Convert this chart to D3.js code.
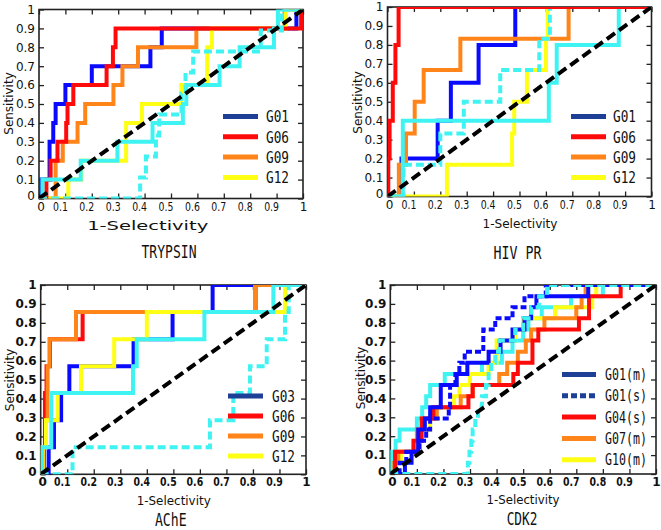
<!DOCTYPE html>
<html><head><meta charset="utf-8">
<script src="https://cdn.jsdelivr.net/npm/d3@7"></script>
<style>body{margin:0;background:#fff}svg{display:block}</style>
</head><body>
<svg id="c" width="661" height="530"></svg>
<script>
// ---------- DATA ----------
const tickValues = [0,0.1,0.2,0.3,0.4,0.5,0.6,0.7,0.8,0.9,1];
const tickLabels = ["0","0.1","0.2","0.3","0.4","0.5","0.6","0.7","0.8","0.9","1"];
const diagonal = [[0,0],[1,1]];

// TRYPSIN
const tryG01 = [[0,0],[0.009,0],[0.009,0.1],[0.04,0.1],[0.04,0.3],[0.054,0.3],[0.054,0.4],[0.063,0.4],[0.063,0.5],[0.1,0.5],[0.1,0.6],[0.2,0.6],[0.2,0.7],[0.422,0.7],[0.422,0.8],[0.465,0.8],[0.465,0.9],[0.975,0.9],[0.975,1],[1,1]];
const tryG06 = [[0,0],[0.028,0],[0.028,0.1],[0.044,0.1],[0.044,0.2],[0.07,0.2],[0.07,0.3],[0.103,0.3],[0.103,0.4],[0.108,0.4],[0.108,0.5],[0.13,0.5],[0.13,0.6],[0.256,0.6],[0.256,0.7],[0.28,0.7],[0.28,0.8],[0.29,0.8],[0.29,0.9],[0.993,0.9],[0.993,1],[1,1]];
const tryG09 = [[0,0],[0.063,0],[0.063,0.2],[0.09,0.2],[0.09,0.3],[0.146,0.3],[0.146,0.4],[0.175,0.4],[0.175,0.5],[0.282,0.5],[0.282,0.6],[0.316,0.6],[0.316,0.7],[0.375,0.7],[0.375,0.8],[0.596,0.8],[0.596,0.9],[0.93,0.9],[0.93,1],[1,1]];
const tryG12 = [[0,0],[0.111,0],[0.111,0.1],[0.16,0.1],[0.16,0.2],[0.33,0.2],[0.33,0.4],[0.39,0.4],[0.39,0.5],[0.539,0.5],[0.539,0.6],[0.637,0.6],[0.637,0.8],[0.655,0.8],[0.655,0.9],[0.935,0.9],[0.935,1],[1,1]];
const tryCyan = [[0,0],[0.013,0],[0.013,0.1],[0.158,0.1],[0.158,0.2],[0.297,0.2],[0.297,0.3],[0.43,0.3],[0.43,0.4],[0.545,0.4],[0.545,0.5],[0.558,0.5],[0.558,0.6],[0.684,0.6],[0.684,0.7],[0.76,0.7],[0.76,0.8],[0.89,0.8],[0.89,0.9],[0.905,0.9],[0.905,1],[1,1]];
const tryCyanD = [[0,0],[0.383,0],[0.383,0.111],[0.405,0.111],[0.405,0.222],[0.443,0.222],[0.443,0.333],[0.455,0.333],[0.455,0.444],[0.54,0.444],[0.54,0.556],[0.555,0.556],[0.555,0.667],[0.584,0.667],[0.584,0.778],[0.84,0.778],[0.84,0.889],[0.92,0.889],[0.92,1],[1,1]];
const tryLegend = ["G01","G06","G09","G12"];

// HIV PR
const hivG01 = [[0,0],[0.053,0],[0.053,0.2],[0.19,0.2],[0.19,0.4],[0.24,0.4],[0.24,0.6],[0.345,0.6],[0.345,0.8],[0.484,0.8],[0.484,1],[1,1]];
const hivG06 = [[0,0],[0.003,0],[0.003,0.2],[0.008,0.2],[0.008,0.4],[0.02,0.4],[0.02,0.6],[0.03,0.6],[0.03,0.8],[0.042,0.8],[0.042,1],[1,1]];
const hivG09 = [[0,0],[0.043,0],[0.043,0.167],[0.07,0.167],[0.07,0.333],[0.103,0.333],[0.103,0.5],[0.137,0.5],[0.137,0.667],[0.276,0.667],[0.276,0.833],[0.686,0.833],[0.686,1],[1,1]];
const hivG12 = [[0,0],[0.225,0],[0.225,0.167],[0.472,0.167],[0.472,0.333],[0.48,0.333],[0.48,0.5],[0.528,0.5],[0.528,0.667],[0.6,0.667],[0.6,0.833],[0.607,0.833],[0.607,1],[1,1]];
const hivCyan = [[0,0],[0.058,0],[0.058,0.4],[0.611,0.4],[0.611,0.6],[0.641,0.6],[0.641,0.8],[0.876,0.8],[0.876,1],[1,1]];
const hivCyanD = [[0,0],[0.061,0],[0.061,0.167],[0.2,0.167],[0.2,0.333],[0.289,0.333],[0.289,0.5],[0.427,0.5],[0.427,0.667],[0.575,0.667],[0.575,0.833],[0.615,0.833],[0.615,1],[1,1]];
const hivLegend = ["G01","G06","G09","G12"];

// AChE
const acheG03 = [[0,0],[0.03,0],[0.03,0.143],[0.05,0.143],[0.05,0.286],[0.077,0.286],[0.077,0.429],[0.108,0.429],[0.108,0.571],[0.35,0.571],[0.35,0.714],[0.497,0.714],[0.497,0.857],[0.648,0.857],[0.648,1],[1,1]];
const acheG06 = [[0,0],[0.012,0],[0.012,0.143],[0.016,0.143],[0.016,0.429],[0.022,0.429],[0.022,0.571],[0.035,0.571],[0.035,0.714],[0.158,0.714],[0.158,0.857],[0.81,0.857],[0.81,1],[1,1]];
const acheG09 = [[0,0],[0,0.143],[0.02,0.143],[0.02,0.286],[0.026,0.286],[0.026,0.571],[0.033,0.571],[0.033,0.714],[0.133,0.714],[0.133,0.857],[0.808,0.857],[0.808,1],[1,1]];
const acheG12 = [[0,0],[0.008,0],[0.008,0.143],[0.02,0.143],[0.02,0.286],[0.064,0.286],[0.064,0.429],[0.152,0.429],[0.152,0.571],[0.277,0.571],[0.277,0.714],[0.4,0.714],[0.4,0.857],[0.921,0.857],[0.921,1],[1,1]];
const acheCyan = [[0,0],[0.005,0],[0.005,0.143],[0.04,0.143],[0.04,0.429],[0.348,0.429],[0.348,0.571],[0.362,0.571],[0.362,0.714],[0.617,0.714],[0.617,0.857],[0.877,0.857],[0.877,1],[1,1]];
const acheCyanD = [[0,0],[0.12,0],[0.12,0.143],[0.638,0.143],[0.638,0.286],[0.726,0.286],[0.726,0.429],[0.789,0.429],[0.789,0.571],[0.852,0.571],[0.852,0.714],[0.921,0.714],[0.921,0.857],[0.935,0.857],[0.935,1],[1,1]];
const acheLegend = ["G03","G06","G09","G12"];

// CDK2
const cdkG01m = [[0,0],[0.055,0],[0.055,0.059],[0.08,0.059],[0.08,0.118],[0.105,0.118],[0.105,0.235],[0.13,0.235],[0.13,0.294],[0.15,0.294],[0.15,0.353],[0.19,0.353],[0.19,0.471],[0.25,0.471],[0.25,0.529],[0.29,0.529],[0.29,0.588],[0.37,0.588],[0.37,0.647],[0.415,0.647],[0.415,0.706],[0.46,0.706],[0.46,0.765],[0.505,0.765],[0.505,0.824],[0.53,0.824],[0.53,0.882],[0.55,0.882],[0.55,0.941],[0.745,0.941],[0.745,1],[1,1]];
const cdkG01s = [[0,0],[0.035,0],[0.035,0.059],[0.06,0.059],[0.06,0.118],[0.11,0.118],[0.11,0.176],[0.135,0.176],[0.135,0.235],[0.15,0.235],[0.15,0.294],[0.22,0.294],[0.22,0.353],[0.225,0.353],[0.225,0.471],[0.245,0.471],[0.245,0.529],[0.26,0.529],[0.26,0.588],[0.28,0.588],[0.28,0.647],[0.35,0.647],[0.35,0.765],[0.395,0.765],[0.395,0.824],[0.46,0.824],[0.46,0.882],[0.505,0.882],[0.505,0.941],[0.585,0.941],[0.585,1],[1,1]];
const cdkG04s = [[0,0],[0.018,0],[0.018,0.118],[0.087,0.118],[0.087,0.176],[0.118,0.176],[0.118,0.294],[0.162,0.294],[0.162,0.353],[0.294,0.353],[0.294,0.412],[0.31,0.412],[0.31,0.471],[0.463,0.471],[0.463,0.529],[0.48,0.529],[0.48,0.588],[0.535,0.588],[0.535,0.706],[0.557,0.706],[0.557,0.765],[0.71,0.765],[0.71,0.824],[0.748,0.824],[0.748,0.941],[0.867,0.941],[0.867,1],[1,1]];
const cdkG07m = [[0,0],[0.015,0],[0.015,0.059],[0.03,0.059],[0.03,0.118],[0.1,0.118],[0.1,0.235],[0.12,0.235],[0.12,0.294],[0.175,0.294],[0.175,0.353],[0.265,0.353],[0.265,0.412],[0.31,0.412],[0.31,0.471],[0.41,0.471],[0.41,0.529],[0.44,0.529],[0.44,0.588],[0.48,0.588],[0.48,0.647],[0.51,0.647],[0.51,0.706],[0.53,0.706],[0.53,0.765],[0.58,0.765],[0.58,0.824],[0.7,0.824],[0.7,0.882],[0.72,0.882],[0.72,0.941],[0.735,0.941],[0.735,1],[1,1]];
const cdkG10m = [[0,0],[0.02,0],[0.02,0.059],[0.04,0.059],[0.04,0.118],[0.09,0.118],[0.09,0.176],[0.11,0.176],[0.11,0.235],[0.15,0.235],[0.15,0.294],[0.17,0.294],[0.17,0.353],[0.24,0.353],[0.24,0.412],[0.26,0.412],[0.26,0.471],[0.3,0.471],[0.3,0.529],[0.37,0.529],[0.37,0.588],[0.4,0.588],[0.4,0.706],[0.47,0.706],[0.47,0.765],[0.5,0.765],[0.5,0.824],[0.62,0.824],[0.62,0.882],[0.76,0.882],[0.76,0.941],[0.775,0.941],[0.775,1],[1,1]];
const cdkCyan = [[0,0],[0.005,0],[0.005,0.118],[0.02,0.118],[0.02,0.176],[0.035,0.176],[0.035,0.235],[0.1,0.235],[0.1,0.294],[0.12,0.294],[0.12,0.353],[0.135,0.353],[0.135,0.412],[0.15,0.412],[0.15,0.471],[0.205,0.471],[0.205,0.529],[0.345,0.529],[0.345,0.588],[0.42,0.588],[0.42,0.647],[0.46,0.647],[0.46,0.706],[0.5,0.706],[0.5,0.765],[0.52,0.765],[0.52,0.824],[0.57,0.824],[0.57,0.882],[0.68,0.882],[0.68,0.941],[0.8,0.941],[0.8,1],[1,1]];
const cdkCyanD = [[0,0],[0.292,0],[0.292,0.059],[0.298,0.059],[0.298,0.118],[0.305,0.118],[0.305,0.176],[0.31,0.176],[0.31,0.235],[0.32,0.235],[0.32,0.294],[0.33,0.294],[0.33,0.353],[0.345,0.353],[0.345,0.412],[0.36,0.412],[0.36,0.471],[0.37,0.471],[0.37,0.529],[0.38,0.529],[0.38,0.588],[0.395,0.588],[0.395,0.647],[0.41,0.647],[0.41,0.706],[0.47,0.706],[0.47,0.765],[0.5,0.765],[0.5,0.824],[0.53,0.824],[0.53,0.882],[0.56,0.882],[0.56,0.941],[0.59,0.941],[0.59,1],[1,1]];
const cdkLegend = ["G01(m)","G01(s)","G04(s)","G07(m)","G10(m)"];

// ---------- STYLE ----------
const BLUE="#0a0aff", RED="#ff0a0a", ORANGE="#ff8419", YELLOW="#ffff14", CYAN="#3ff3f3", NAVY="#1e3f96";
const dashCyan="8,4", dashBlue="6,3", dashDiag="10,5";

const panels = [
 {box:[39,303,198.5,9.5], bold:false, title:"TRYPSIN", titlePos:[169,251.7,55],
  xlab:[147.7,225.7,121], ylab:[8.5,103.5],
  series:[[tryG01,BLUE],[tryG09,ORANGE],[tryG12,YELLOW],[tryG06,RED],[tryCyan,CYAN],[tryCyanD,CYAN,dashCyan]],
  legend:{labels:tryLegend, colors:[NAVY,RED,ORANGE,YELLOW], dashes:[], x:[223,258], tx:266, y0:116.5, dy:20.3, tw:23, fs:16}},
 {box:[387.5,651.5,196.5,7], bold:false, title:"HIV PR", titlePos:[517.5,253.3,48],
  xlab:[520,223.3,75], ylab:[357.5,102.5],
  series:[[hivG01,BLUE],[hivG09,ORANGE],[hivG12,YELLOW],[hivCyan,CYAN],[hivCyanD,CYAN,dashCyan],[hivG06,RED]],
  legend:{labels:hivLegend, colors:[NAVY,RED,ORANGE,YELLOW], dashes:[], x:[571,606], tx:613, y0:116.5, dy:20.3, tw:23, fs:16}},
 {box:[40.7,306,474.3,285], bold:true, title:"AChE", titlePos:[170.8,520.3,31.7],
  xlab:[173.7,500.7,74], ylab:[9.5,380],
  series:[[acheG06,RED],[acheG03,BLUE],[acheG09,ORANGE],[acheG12,YELLOW],[acheCyan,CYAN],[acheCyanD,CYAN,dashCyan]],
  legend:{labels:acheLegend, colors:[NAVY,RED,ORANGE,YELLOW], dashes:[], x:[228,263], tx:272, y0:396, dy:20, tw:23, fs:16}},
 {box:[390.3,656,474,285], bold:true, title:"CDK2", titlePos:[522,518.8,30.7],
  xlab:[523,499.8,73], ylab:[361,378],
  series:[[cdkCyan,CYAN],[cdkG10m,YELLOW],[cdkG07m,ORANGE],[cdkG04s,RED],[cdkG01s,BLUE,dashBlue],[cdkG01m,BLUE],[cdkCyanD,CYAN,dashCyan]],
  legend:{labels:cdkLegend, colors:[NAVY,NAVY,RED,ORANGE,YELLOW], dashes:[null,dashBlue], x:[562,596], tx:605, y0:374.5, dy:21.3, tw:42, fs:15}}
];

const svg = d3.select("#c");
const sans = "DejaVu Sans";
const monoFont = "'DejaVu Sans Mono', monospace";

function fit(sel, w){ sel.attr("textLength", w).attr("lengthAdjust","spacingAndGlyphs"); }

panels.forEach((p,i)=>{
  const [x0,x1,y0,y1] = p.box;
  const x = d3.scaleLinear().domain([0,1]).range([x0,x1]);
  const y = d3.scaleLinear().domain([0,1]).range([y0,y1]);
  const g = svg.append("g");
  const cid = "clip"+i;
  svg.append("clipPath").attr("id",cid).append("rect")
    .attr("x",x0).attr("y",y1).attr("width",x1-x0).attr("height",y0-y1);

  const fmt = (d,k)=>tickLabels[k];
  const weight = p.bold ? "bold" : "normal";
  const gb = g.append("g").attr("transform",`translate(0,${y0})`)
    .call(d3.axisBottom(x).tickValues(tickValues).tickFormat(fmt).tickSizeInner(-5).tickSizeOuter(0).tickPadding(3.5));
  const gt = g.append("g").attr("transform",`translate(0,${y1})`)
    .call(d3.axisTop(x).tickValues(tickValues).tickSizeInner(-5).tickSizeOuter(0));
  const gl = g.append("g").attr("transform",`translate(${x0},0)`)
    .call(d3.axisLeft(y).tickValues(tickValues).tickFormat(fmt).tickSizeInner(-5).tickSizeOuter(0).tickPadding(4));
  const gr = g.append("g").attr("transform",`translate(${x1},0)`)
    .call(d3.axisRight(y).tickValues(tickValues).tickSizeInner(-5).tickSizeOuter(0));
  gt.selectAll("text").remove();
  gr.selectAll("text").remove();
  [gb,gt,gl,gr].forEach(a=>{
    a.select(".domain").remove();
    a.selectAll(".tick line").attr("stroke","#222").attr("stroke-width",1.3);
    a.selectAll("text").attr("font-family",sans).attr("font-size",12).attr("font-weight",weight).attr("fill","#111");
  });
  gb.selectAll(".tick text").each(function(d,k){
    const t = d3.select(this);
    const w = this.getComputedTextLength();
    if (tickLabels[k].length>1){ fit(t, w*0.78); t.attr("dx",-5.5); }
    else if (k===0){ t.attr("dx",1.5); }
  });
  gl.selectAll(".tick text").each(function(d,k){
    if (k===0) d3.select(this).attr("dy","0.1em");
  });

  g.append("rect").attr("x",x0).attr("y",y1).attr("width",x1-x0).attr("height",y0-y1)
    .attr("fill","none").attr("stroke","#222").attr("stroke-width",1.6);

  const line = d3.line().x(d=>x(d[0])).y(d=>y(d[1]));
  const cg = g.append("g").attr("clip-path",`url(#${cid})`);
  p.series.forEach(s=>{
    cg.append("path").attr("d",line(s[0])).attr("fill","none")
      .attr("stroke",s[1]).attr("stroke-width",4)
      .attr("stroke-dasharray",s[2]||null).attr("stroke-linejoin","miter");
  });
  cg.append("path").attr("d",line(diagonal)).attr("fill","none")
    .attr("stroke","#000").attr("stroke-width",4).attr("stroke-dasharray",dashDiag);

  const L = p.legend;
  L.labels.forEach((lab,k)=>{
    const yy = L.y0 + k*L.dy;
    g.append("line").attr("x1",L.x[0]).attr("x2",L.x[1]).attr("y1",yy).attr("y2",yy)
      .attr("stroke",L.colors[k]).attr("stroke-width",5).attr("stroke-dasharray",L.dashes[k]||null);
    const t = g.append("text").attr("x",L.tx).attr("y",yy).attr("dy","0.37em")
      .attr("font-family",monoFont).attr("font-size",L.fs).attr("fill","#111").text(lab);
    fit(t, L.tw);
  });

  const xl = g.append("text").attr("x",p.xlab[0]).attr("y",p.xlab[1]).attr("dy","0.36em")
    .attr("text-anchor","middle").attr("font-family",sans).attr("font-size",12).attr("fill","#111")
    .text("1-Selectivity");
  fit(xl, p.xlab[2]);
  g.append("text").attr("transform",`translate(${p.ylab[0]},${p.ylab[1]}) rotate(-90)`)
    .attr("dy","0.36em").attr("text-anchor","middle").attr("font-family",sans).attr("font-size",12)
    .attr("fill","#111").text("Sensitivity");
  const tt = g.append("text").attr("x",p.titlePos[0]).attr("y",p.titlePos[1]).attr("dy","0.36em")
    .attr("text-anchor","middle").attr("font-family",monoFont).attr("font-size",17).attr("fill","#111")
    .text(p.title);
  fit(tt, p.titlePos[2]);
});
</script>
</body></html>
